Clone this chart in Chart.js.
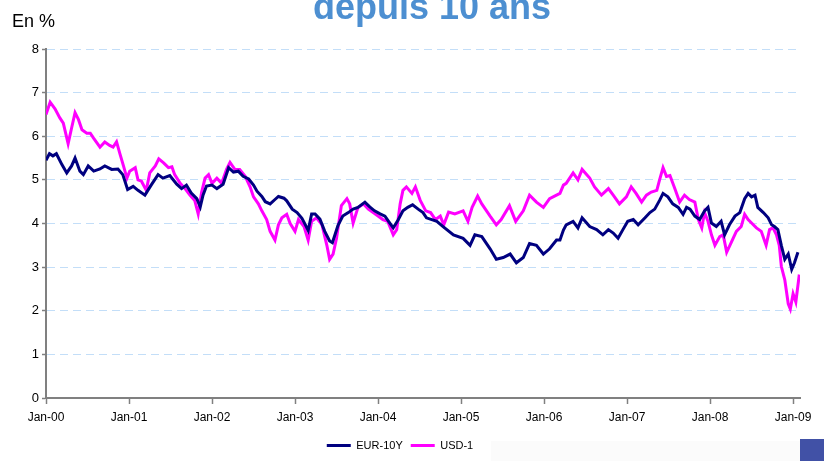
<!DOCTYPE html>
<html>
<head>
<meta charset="utf-8">
<script src="https://cdn.jsdelivr.net/npm/chart.js@4.4.1/dist/chart.umd.min.js"></script>
<style>
  html, body { margin: 0; padding: 0; background: #fff; }
  #wrap { position: relative; width: 824px; height: 461px; overflow: hidden; }
  #title { position: absolute; left: 0; width: 864px; top: -11px; text-align: center;
           font: bold 36px/35px Arial, "Liberation Sans", sans-serif; color: #4d8fd1; }
  #unit { position: absolute; left: 12px; top: 12px; font: 18px/18px Arial, "Liberation Sans", sans-serif; color: #000; }
</style>
</head>
<body>
<div id="wrap">
  <canvas id="ratesChart" width="824" height="461"></canvas>
  <div id="title">depuis 10 ans</div>
  <div id="unit">En %</div>
</div>
<script>
// months counted from Jan-2000
var tickLabels = ['Jan-00', 'Jan-01', 'Jan-02', 'Jan-03', 'Jan-04', 'Jan-05', 'Jan-06', 'Jan-07', 'Jan-08', 'Jan-09'];

var eurMonths = [0, 0.5, 1, 1.5, 2.3, 3.0, 3.7, 4.2, 4.9, 5.4, 6.1, 6.9, 7.8, 8.5, 9.5, 10.4, 11.1, 11.8, 12.6, 13.3,
  14.3, 15.2, 16.2, 16.9, 17.9, 18.9, 19.6, 20.3, 21.0, 21.8, 22.3, 22.7, 23.2, 24.0, 24.7, 25.6, 26.4, 27.1, 27.8, 28.5,
  29.3, 30.0, 30.5, 31.2, 31.7, 32.4, 33.1, 33.6, 34.4, 34.8, 35.6, 36.3, 37.0, 37.5, 37.9, 38.4, 38.9, 39.6, 40.3, 41.0,
  41.4, 42.2, 42.9, 43.7, 44.4, 45.1, 46.1, 46.8, 47.5, 48.3, 49.0, 49.7, 50.2, 50.9, 51.6, 52.3, 53.0, 53.8, 54.5, 55.0,
  56.5, 57.4, 58.9, 60.3, 61.3, 62.0, 63.0, 64.2, 65.1, 66.1, 67.1, 68.0, 69.0, 69.9, 70.9, 71.9, 72.8, 73.8, 74.3, 74.8,
  75.2, 76.2, 76.9, 77.5, 78.6, 79.6, 80.5, 81.3, 82.0, 82.7, 83.4, 84.1, 84.9, 85.6, 86.6, 87.3, 88.0, 88.7, 89.2, 89.9,
  90.6, 91.4, 92.1, 92.6, 93.1, 93.8, 94.5, 95.2, 95.7, 96.2, 96.9, 97.6, 98.1, 98.8, 99.6, 100.3, 101.0, 101.5, 102.0, 102.5,
  102.9, 103.7, 104.4, 104.9, 105.3, 105.8, 106.3, 106.8, 107.3, 107.8, 108.2, 108.7];
var eur10y = [5.45, 5.6, 5.55, 5.6, 5.35, 5.16, 5.32, 5.5, 5.2, 5.12, 5.32, 5.2, 5.25, 5.32, 5.24, 5.25, 5.12, 4.78, 4.85, 4.76,
  4.65, 4.88, 5.12, 5.04, 5.1, 4.9, 4.8, 4.88, 4.7, 4.57, 4.38, 4.65, 4.86, 4.88, 4.8, 4.9, 5.28, 5.18, 5.2, 5.08,
  5.02, 4.88, 4.74, 4.62, 4.5, 4.45, 4.55, 4.62, 4.58, 4.52, 4.33, 4.25, 4.12, 3.97, 3.84, 4.22, 4.22, 4.1, 3.82, 3.6,
  3.56, 3.95, 4.17, 4.25, 4.33, 4.37, 4.49, 4.38, 4.29, 4.22, 4.17, 4.01, 3.9, 4.08, 4.29, 4.37, 4.43, 4.33, 4.25, 4.13,
  4.05, 3.93, 3.74, 3.66, 3.5, 3.74, 3.7, 3.42, 3.18, 3.22, 3.3, 3.1, 3.22, 3.54, 3.5, 3.3, 3.42, 3.62, 3.62, 3.85,
  3.97, 4.05, 3.9, 4.13, 3.93, 3.86, 3.74, 3.86, 3.78, 3.66, 3.86, 4.05, 4.09, 3.97, 4.13, 4.25, 4.33, 4.53, 4.69, 4.61,
  4.45, 4.37, 4.21, 4.37, 4.33, 4.17, 4.09, 4.29, 4.37, 4.01, 3.93, 4.05, 3.74, 3.97, 4.17, 4.25, 4.57, 4.69, 4.61, 4.65,
  4.37, 4.25, 4.13, 3.97, 3.93, 3.86, 3.5, 3.18, 3.3, 2.95, 3.1, 3.34];

var usdMonths = [0, 0.6, 1.3, 2.0, 2.5, 3.2, 3.7, 4.2, 4.7, 5.2, 5.9, 6.4, 6.9, 7.8, 8.5, 9.2, 9.7, 10.2, 10.7, 11.2,
  11.7, 12.1, 12.9, 13.3, 13.8, 14.5, 15.0, 15.8, 16.3, 17.0, 17.7, 18.2, 18.6, 19.4, 20.1, 20.8, 21.5, 22.0, 22.5, 23.0,
  23.5, 24.0, 24.7, 25.4, 26.1, 26.6, 27.3, 28.0, 28.8, 29.5, 30.0, 30.7, 31.2, 31.9, 32.4, 33.1, 33.6, 34.1, 34.8, 35.3,
  36.0, 36.5, 37.3, 37.9, 38.4, 39.1, 39.9, 40.6, 41.0, 41.5, 42.0, 42.7, 43.5, 43.9, 44.4, 45.1, 45.9, 46.6, 47.3, 48.0,
  48.7, 49.4, 50.2, 50.7, 51.2, 51.6, 52.1, 52.9, 53.4, 54.1, 54.9, 55.6, 56.3, 57.0, 57.5, 58.2, 59.1, 60.3, 61.0, 61.6,
  62.4, 63.0, 64.2, 65.1, 65.8, 67.0, 67.9, 69.0, 69.9, 70.9, 71.9, 72.8, 73.8, 74.3, 74.8, 75.2, 76.2, 76.9, 77.5, 78.6,
  79.3, 80.3, 81.3, 82.0, 82.9, 83.9, 84.6, 85.3, 86.1, 86.8, 87.5, 88.3, 88.7, 89.2, 89.7, 90.2, 90.9, 91.6, 92.3, 93.0,
  93.8, 94.3, 94.8, 95.2, 95.7, 96.2, 96.7, 97.4, 97.9, 98.4, 99.1, 99.8, 100.5, 101.0, 101.5, 102.0, 102.7, 103.4, 104.1, 104.6,
  105.1, 105.6, 106.0, 106.3, 106.8, 107.3, 107.6, 108.0, 108.4, 108.9];
var usd1 = [6.5, 6.78, 6.63, 6.42, 6.3, 5.83, 6.19, 6.54, 6.38, 6.15, 6.07, 6.07, 5.95, 5.75, 5.87, 5.79, 5.75, 5.87, 5.59, 5.32,
  5.04, 5.2, 5.28, 5.0, 4.97, 4.76, 5.16, 5.32, 5.48, 5.39, 5.28, 5.3, 5.12, 4.92, 4.8, 4.65, 4.53, 4.22, 4.72, 5.04,
  5.12, 4.92, 5.04, 4.92, 5.24, 5.4, 5.24, 5.24, 5.08, 4.84, 4.61, 4.45, 4.29, 4.09, 3.82, 3.62, 3.97, 4.13, 4.21, 4.0,
  3.82, 4.09, 3.93, 3.62, 4.05, 4.13, 3.97, 3.5, 3.18, 3.3, 3.66, 4.41, 4.57, 4.45, 4.01, 4.37, 4.45, 4.33, 4.25, 4.17,
  4.09, 4.05, 3.74, 3.86, 4.45, 4.76, 4.84, 4.69, 4.84, 4.53, 4.29, 4.25, 4.09, 4.17, 3.97, 4.26, 4.22, 4.29, 4.05, 4.37,
  4.63, 4.45, 4.17, 3.97, 4.09, 4.41, 4.05, 4.29, 4.65, 4.49, 4.37, 4.57, 4.65, 4.69, 4.88, 4.92, 5.16, 5.0, 5.24, 5.04,
  4.84, 4.65, 4.8, 4.65, 4.45, 4.61, 4.84, 4.69, 4.49, 4.65, 4.72, 4.76, 5.0, 5.28, 5.08, 5.1, 4.8, 4.49, 4.65, 4.55,
  4.49, 4.09, 3.9, 4.25, 4.05, 3.74, 3.5, 3.7, 3.74, 3.34, 3.58, 3.82, 3.93, 4.21, 4.09, 4.01, 3.9, 3.82, 3.5, 3.86,
  3.9, 3.74, 3.5, 3.02, 2.71, 2.16, 2.04, 2.39, 2.2, 2.83];

function toPoints(months, values) {
    return months.map(function (m, i) { return { x: m, y: values[i] }; });
}

// small blue box in the bottom right corner of the slide
const cornerBox = {
    id: 'cornerBox',
    beforeDraw(chart) {
        const ctx = chart.ctx;
        ctx.save();
        ctx.fillStyle = '#fbfbfb';
        ctx.fillRect(491, 441, 333, 20);
        ctx.restore();
    },
    afterDraw(chart) {
        const ctx = chart.ctx;
        ctx.save();
        ctx.fillStyle = '#4151a6';
        ctx.fillRect(800, 439, 24, 22);
        ctx.restore();
    }
};

const ctx = document.getElementById('ratesChart').getContext('2d');
const ratesChart = new Chart(ctx, {
    type: 'line',
    data: {
        datasets: [
            {
                label: 'EUR-10Y',
                data: toPoints(eurMonths, eur10y),
                borderColor: '#000080',
                backgroundColor: '#000080',
                borderWidth: 3,
                pointRadius: 0,
                tension: 0
            },
            {
                label: 'USD-1',
                data: toPoints(usdMonths, usd1),
                borderColor: '#ff00ff',
                backgroundColor: '#ff00ff',
                borderWidth: 3,
                pointRadius: 0,
                tension: 0
            }
        ]
    },
    options: {
        responsive: false,
        animation: false,
        layout: { padding: { left: 0, right: 24, top: 49, bottom: 0 } },
        plugins: {
            legend: {
                display: true,
                position: 'bottom',
                labels: {
                    usePointStyle: true,
                    pointStyle: 'line',
                    pointStyleWidth: 24,
                    padding: 8,
                    color: '#000',
                    font: { family: 'Arial, "Liberation Sans", sans-serif', size: 11 }
                }
            },
            tooltip: { enabled: false }
        },
        scales: {
            x: {
                type: 'linear',
                min: 0,
                max: 109,
                afterBuildTicks: function (scale) {
                    scale.ticks = tickLabels.map(function (t, i) { return { value: i * 12 }; });
                },
                afterFit: function (scale) { scale.height = 34; },
                ticks: {
                    autoSkip: false,
                    maxRotation: 0,
                    padding: 6,
                    color: '#000',
                    font: { family: 'Arial, "Liberation Sans", sans-serif', size: 12 },
                    callback: function (v) { return tickLabels[Math.round(v / 12)]; }
                },
                grid: { drawOnChartArea: false, drawTicks: true, tickLength: 6, tickColor: '#808080', tickWidth: 1.5 },
                border: { color: '#808080', width: 2 }
            },
            y: {
                min: 0,
                max: 8,
                afterFit: function (scale) { scale.width = 46; },
                ticks: {
                    stepSize: 1,
                    padding: 3,
                    color: '#000',
                    font: { family: 'Arial, "Liberation Sans", sans-serif', size: 13 }
                },
                grid: { color: '#c3def8', lineWidth: 1, tickLength: 4, tickColor: '#808080', tickWidth: 1.5 },
                border: { color: '#808080', width: 2, dash: [8, 5] }
            }
        }
    },
    plugins: [cornerBox]
});
</script>
</body>
</html>
